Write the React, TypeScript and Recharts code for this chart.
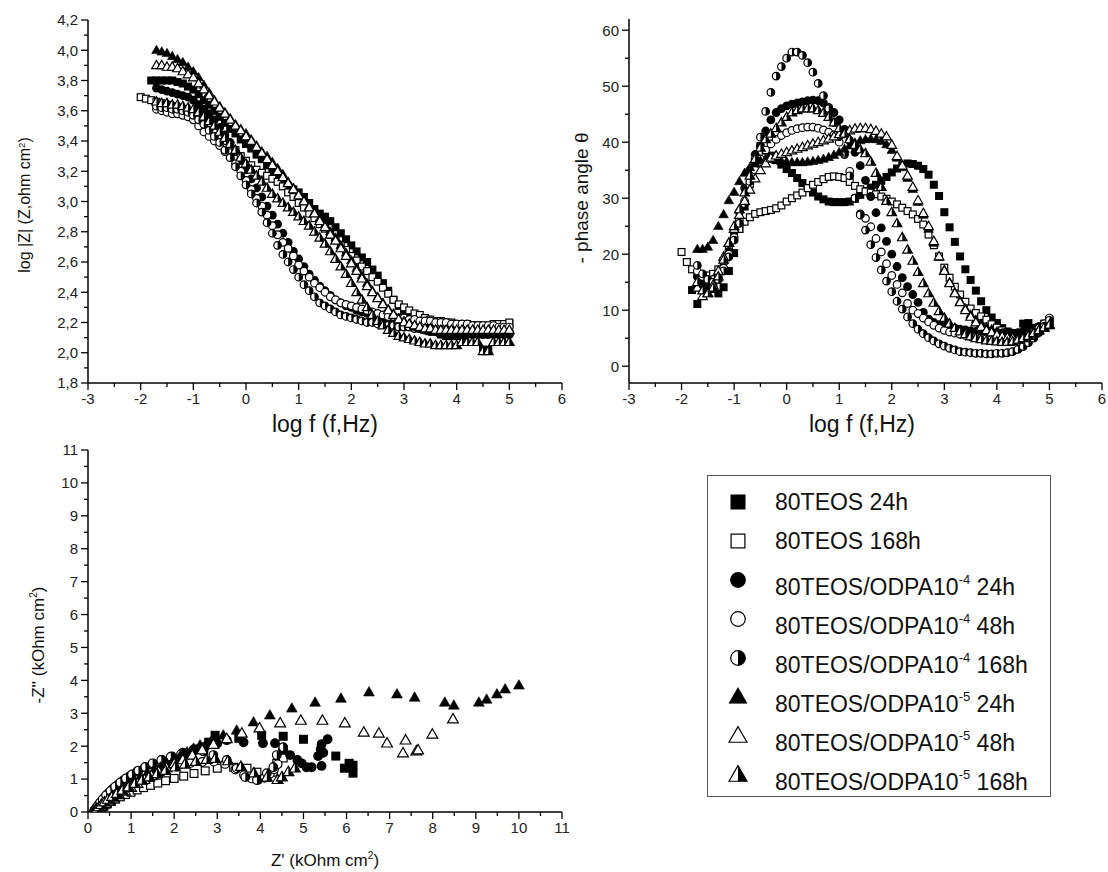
import React from 'react';
import { ScatterChart, Scatter, XAxis, YAxis } from 'recharts';

// frequency sweep, log10(f / Hz)
const logFreq = [
  -2.0, -1.9, -1.8, -1.7, -1.6, -1.5, -1.4, -1.3, -1.2, -1.1,
  -1.0, -0.9, -0.8, -0.7, -0.6, -0.5, -0.4, -0.3, -0.2, -0.1,
  0.0, 0.1, 0.2, 0.3, 0.4, 0.5, 0.6, 0.7, 0.8, 0.9,
  1.0, 1.1, 1.2, 1.3, 1.4, 1.5, 1.6, 1.7, 1.8, 1.9,
  2.0, 2.1, 2.2, 2.3, 2.4, 2.5, 2.6, 2.7, 2.8, 2.9,
  3.0, 3.1, 3.2, 3.3, 3.4, 3.5, 3.6, 3.7, 3.8, 3.9,
  4.0, 4.1, 4.2, 4.3, 4.4, 4.5, 4.6, 4.7, 4.8, 4.9,
  5.0,
];

// log |Z|
const magTeos24 = [
  null, null, 3.80, 3.80, 3.80, 3.80, 3.80, 3.79, 3.78, 3.76,
  3.74, 3.71, 3.67, 3.64, 3.60, 3.56, 3.52, 3.48, 3.45, 3.41,
  3.38, 3.35, 3.31, 3.28, 3.24, 3.20, 3.16, 3.13, 3.10, 3.08,
  3.06, 3.03, 2.99, 2.95, 2.92, 2.90, 2.87, 2.83, 2.79, 2.75,
  2.71, 2.67, 2.63, 2.60, 2.55, 2.51, 2.46, 2.41, 2.35, 2.31,
  2.28, 2.26, 2.24, 2.23, 2.22, 2.18, 2.14, 2.12, 2.11, 2.11,
  2.11, 2.11, 2.17, 2.18, 2.18, 2.02, 2.02, 2.18, 2.18, 2.19,
  2.19,
];
const magTeos168 = [
  3.69, 3.68, 3.67, 3.66, 3.65, 3.64, 3.63, 3.62, 3.61, 3.59,
  3.57, 3.55, 3.52, 3.49, 3.46, 3.43, 3.40, 3.37, 3.34, 3.30,
  3.27, 3.24, 3.21, 3.19, 3.17, 3.15, 3.13, 3.10, 3.06, 3.03,
  2.99, 2.96, 2.92, 2.89, 2.85, 2.82, 2.78, 2.75, 2.71, 2.68,
  2.64, 2.61, 2.57, 2.54, 2.50, 2.47, 2.43, 2.39, 2.35, 2.32,
  2.30, 2.28, 2.26, 2.25, 2.23, 2.22, 2.21, 2.21, 2.20, 2.20,
  2.19, 2.19, 2.19, 2.18, 2.18, 2.18, 2.18, 2.19, 2.19, 2.19,
  2.20,
];
const magOdpa4h24 = [
  null, null, null, 3.75, 3.74, 3.73, 3.72, 3.71, 3.70, 3.69,
  3.67, 3.64, 3.61, 3.58, 3.54, 3.49, 3.44, 3.39, 3.33, 3.27,
  3.21, 3.15, 3.09, 3.03, 2.97, 2.91, 2.85, 2.79, 2.73, 2.67,
  2.62, 2.57, 2.52, 2.48, 2.44, 2.41, 2.38, 2.35, 2.33, 2.31,
  2.30, 2.28, 2.27, 2.26, 2.25, 2.24, 2.23, 2.22, 2.21, 2.20,
  2.19, 2.18, 2.17, 2.16, 2.15, 2.14, 2.14, 2.13, 2.13, 2.12,
  2.12, 2.12, 2.12, 2.12, 2.12, 2.12, 2.12, 2.12, 2.12, 2.12,
  2.12,
];
const magOdpa4h48 = [
  null, null, null, 3.61, 3.60, 3.59, 3.58, 3.58, 3.57, 3.56,
  3.54, 3.50, 3.46, 3.43, 3.40, 3.37, 3.33, 3.29, 3.25, 3.20,
  3.14, 3.08, 3.02, 2.97, 2.91, 2.84, 2.78, 2.73, 2.69, 2.64,
  2.58, 2.54, 2.50, 2.46, 2.43, 2.40, 2.37, 2.35, 2.33, 2.32,
  2.31, 2.30, 2.29, 2.28, 2.27, 2.26, 2.25, 2.24, 2.24, 2.23,
  2.23, 2.22, 2.22, 2.21, 2.21, 2.21, 2.20, 2.20, 2.20, 2.19,
  2.19, 2.19, 2.19, 2.18, 2.18, 2.18, 2.18, 2.18, 2.17, 2.17,
  2.17,
];
const magOdpa4h168 = [
  null, null, null, 3.63, 3.62, 3.62, 3.61, 3.61, 3.60, 3.59,
  3.57, 3.54, 3.51, 3.47, 3.43, 3.39, 3.34, 3.29, 3.23, 3.17,
  3.11, 3.05, 2.99, 2.93, 2.86, 2.79, 2.71, 2.65, 2.60, 2.55,
  2.50, 2.45, 2.41, 2.37, 2.33, 2.31, 2.29, 2.27, 2.25, 2.24,
  2.23, 2.22, 2.21, 2.20, 2.20, 2.19, 2.19, 2.18, 2.18, 2.17,
  2.17, 2.17, 2.16, 2.16, 2.16, 2.15, 2.15, 2.15, 2.15, 2.15,
  2.14, 2.14, 2.14, 2.14, 2.14, 2.14, 2.14, 2.14, 2.14, 2.14,
  2.14,
];
const magOdpa5h24 = [
  null, null, null, 4.00, 3.99, 3.98, 3.96, 3.94, 3.92, 3.89,
  3.86, 3.82, 3.77, 3.72, 3.67, 3.63, 3.59, 3.55, 3.51, 3.48,
  3.45, 3.41, 3.37, 3.33, 3.30, 3.26, 3.22, 3.18, 3.13, 3.09,
  3.05, 3.01, 2.97, 2.93, 2.89, 2.85, 2.80, 2.76, 2.71, 2.66,
  2.61, 2.56, 2.51, 2.46, 2.41, 2.37, 2.33, 2.29, 2.26, 2.23,
  2.21, 2.19, 2.17, 2.16, 2.15, 2.14, 2.14, 2.13, 2.13, 2.13,
  2.13, 2.13, 2.13, 2.13, 2.13, 2.12, 2.13, 2.13, 2.14, 2.14,
  2.14,
];
const magOdpa5h48 = [
  null, null, null, 3.90, 3.90, 3.89, 3.89, 3.88, 3.86, 3.84,
  3.82, 3.78, 3.74, 3.70, 3.66, 3.62, 3.58, 3.54, 3.50, 3.47,
  3.43, 3.40, 3.36, 3.32, 3.28, 3.24, 3.20, 3.16, 3.12, 3.08,
  3.04, 3.00, 2.96, 2.92, 2.87, 2.83, 2.78, 2.74, 2.69, 2.64,
  2.59, 2.54, 2.49, 2.44, 2.40, 2.36, 2.32, 2.28, 2.25, 2.22,
  2.20, 2.19, 2.18, 2.17, 2.16, 2.16, 2.15, 2.15, 2.15, 2.15,
  2.15, 2.15, 2.15, 2.15, 2.15, 2.15, 2.15, 2.15, 2.15, 2.15,
  2.15,
];
const magOdpa5h168 = [
  null, null, null, 3.66, 3.65, 3.65, 3.64, 3.64, 3.63, 3.62,
  3.61, 3.59, 3.56, 3.53, 3.50, 3.46, 3.42, 3.38, 3.34, 3.29,
  3.25, 3.21, 3.17, 3.13, 3.09, 3.05, 3.02, 2.99, 2.96, 2.93,
  2.90, 2.87, 2.84, 2.80, 2.76, 2.72, 2.67, 2.62, 2.57, 2.52,
  2.46, 2.40, 2.35, 2.30, 2.25, 2.21, 2.18, 2.15, 2.13, 2.11,
  2.10, 2.09, 2.08, 2.07, 2.06, 2.06, 2.05, 2.05, 2.05, 2.05,
  2.05, 2.07, 2.07, 2.07, 2.07, 2.01, 2.01, 2.07, 2.07, 2.07,
  2.07,
];

// - phase angle (degrees)
const phTeos24 = [
  null, null, 13.6, 11.1, 14.2, 15.0, 13.8, 13.0, 14.1, 17.0,
  20.2, 24.5, 28.5, 32.5, 36.5, 39.3, 38.5, 37.6, 36.8, 36.0,
  35.2, 34.5, 33.6, 32.7, 31.8, 31.0, 30.3, 29.8, 29.4, 29.3,
  29.3, 29.3, 29.4, 29.9, 30.6, 31.3, 31.9, 32.4, 33.1, 33.8,
  34.6, 35.3, 35.9, 36.2, 36.1, 35.8, 35.2, 34.2, 32.4, 30.4,
  27.5, 24.8, 22.2, 19.6, 17.3, 15.4, 13.5, 11.6, 10.0, 8.7,
  7.7, 6.8, 6.2, 5.9, 5.9, 7.6, 7.7, 6.6, 6.9, 7.2,
  7.4,
];
const phTeos168 = [
  20.4, 18.6, 17.3, 16.4, 16.2, 16.2, 16.5, 17.3, 18.8, 20.8,
  23.0, 24.5, 25.8, 26.6, 27.2, 27.5, 27.7, 27.9, 28.2, 28.7,
  29.4, 30.0, 30.5, 31.0, 31.8, 32.4, 32.9, 33.4, 33.8, 33.9,
  33.8, 33.6, 32.9, 32.2, 31.6, 31.2, 31.0, 30.7, 30.3, 29.9,
  29.4, 28.9, 28.3, 27.7, 27.1, 26.3, 25.3, 23.5, 21.6, 19.6,
  17.6, 15.8, 14.2, 12.8, 11.5, 10.3, 9.5, 8.9, 8.3, 7.5,
  6.9, 6.4, 6.1, 5.9, 5.8, 5.8, 5.9, 6.2, 6.8, 7.6,
  8.3,
];
const phOdpa4h24 = [
  null, null, null, 16.0, 15.0, 14.5, 14.5, 15.5, 17.5, 20.5,
  24.0, 27.5, 31.8, 35.0, 37.8, 39.3, 42.0, 44.0, 45.3, 46.0,
  46.5, 46.8, 47.0, 47.2, 47.4, 47.5, 47.4, 47.0, 46.2, 45.3,
  44.0, 42.3, 40.3, 38.2, 35.8, 33.2, 30.3, 27.4, 24.7, 22.3,
  20.0, 17.8, 15.8, 14.2, 12.8, 11.4, 9.6, 8.4, 7.8, 7.4,
  7.2, 7.0, 6.8, 6.6, 6.5, 6.3, 6.2, 6.1, 6.0, 6.0,
  5.9, 5.9, 5.9, 5.9, 6.0, 6.2, 6.5, 6.8, 7.1, 7.4,
  7.6,
];
const phOdpa4h48 = [
  null, null, null, 17.0, 16.0, 15.5, 15.5, 16.0, 17.5, 20.0,
  23.0, 26.0, 29.5, 32.5, 35.0, 37.0, 38.6, 39.7, 40.5, 41.2,
  41.7, 42.1, 42.4, 42.6, 42.7, 42.7, 42.5, 42.2, 41.8, 41.3,
  40.0, 37.8, 34.8, 30.0, 27.2, 26.4, 24.9, 22.8, 20.4, 18.3,
  16.2, 14.6, 13.1, 11.2, 10.0, 9.4, 8.6, 7.9, 7.3, 6.8,
  6.4, 6.1, 5.9, 5.7, 5.5, 5.3, 5.2, 5.0, 4.9, 4.8,
  4.6, 4.5, 4.4, 4.4, 4.6, 5.0, 5.5, 6.1, 6.8, 7.6,
  8.6,
];
const phOdpa4h168 = [
  null, null, null, 18.0, 16.5, 15.5, 15.0, 15.5, 17.0, 19.5,
  22.5, 25.5, 29.0, 33.0, 37.0, 40.9, 45.5, 48.9, 51.8, 53.5,
  55.0, 56.1, 56.1, 55.5, 54.2, 52.5, 50.5, 48.3, 46.0, 43.5,
  41.0, 38.0, 34.0, 30.0, 27.0, 24.3, 21.7, 19.4, 17.2, 15.2,
  13.3, 11.6, 10.2, 8.8, 7.6, 6.6, 5.8, 5.1, 4.5, 4.0,
  3.6, 3.2, 2.9, 2.6, 2.5, 2.4, 2.3, 2.3, 2.2, 2.2,
  2.3, 2.3, 2.4, 2.6, 3.0, 3.5, 4.2, 5.0, 6.0, 7.1,
  8.2,
];
const phOdpa5h24 = [
  null, null, null, 20.9, 20.9, 21.3, 22.5, 25.0, 27.1, 29.6,
  31.1, 33.0, 34.5, 35.5, 36.2, 36.7, 37.0, 37.0, 36.8, 36.6,
  36.5, 36.4, 36.4, 36.4, 36.5, 36.6, 36.8, 37.0, 37.3, 37.7,
  38.2, 38.8, 39.4, 39.9, 40.3, 40.5, 40.6, 40.5, 40.2, 39.6,
  38.6, 37.2, 35.5, 33.6, 31.6, 29.3, 27.0, 24.5, 22.0, 19.5,
  17.2, 15.0, 13.2, 11.6, 10.3, 9.2, 8.3, 7.6, 7.0, 6.6,
  6.2, 5.9, 5.7, 5.6, 5.6, 5.7, 5.9, 6.2, 6.5, 6.9,
  7.3,
];
const phOdpa5h48 = [
  null, null, null, 14.0, 12.5, 13.0, 14.5, 17.0, 19.5, 22.0,
  24.5, 27.0, 29.5, 31.5, 33.5, 35.0, 36.2, 37.2, 37.6, 37.9,
  38.2, 38.5, 38.8, 39.1, 39.4, 39.7, 40.0, 40.3, 40.6, 41.0,
  41.4, 41.8, 42.1, 42.4, 42.5, 42.5, 42.3, 42.0, 41.5, 41.0,
  39.5, 37.5, 35.8, 34.0, 32.0, 29.6, 27.3, 25.0, 22.3, 19.6,
  17.0, 14.8, 13.0, 11.4, 10.0, 8.8, 7.8, 7.0, 6.4, 6.0,
  5.6, 5.3, 5.1, 5.0, 5.0, 5.1, 5.4, 5.8, 6.3, 6.8,
  7.3,
];
const phOdpa5h168 = [
  null, null, null, 15.0, 13.5, 13.0, 14.0, 16.0, 19.0, 22.0,
  25.0, 28.0, 31.0, 34.0, 37.0, 39.0, 40.5, 41.5, 42.5, 43.5,
  44.5, 45.3, 45.7, 46.0, 46.0, 46.0, 45.7, 45.2, 44.5, 43.5,
  42.5, 41.5, 40.5, 39.5, 38.7, 38.0, 36.5, 34.5, 32.0, 29.5,
  27.5, 25.5, 23.0, 20.8, 18.8, 16.8, 14.8, 13.0, 11.3, 9.8,
  8.6, 7.6, 6.8, 6.2, 5.7, 5.3, 5.0, 4.8, 4.6, 4.5,
  4.4, 4.3, 4.3, 4.4, 4.7, 5.0, 5.4, 5.9, 6.4, 6.9,
  7.4,
];

// Nyquist: Z' and -Z'' (kOhm cm2)
const reTeos24 = [0.15, 0.18, 0.22, 0.27, 0.33, 0.41, 0.50, 0.61, 0.73, 0.87, 1.02, 1.18, 1.35, 1.53, 1.72, 1.92, 2.13, 2.35, 2.60, 2.80, 2.95, 3.50, 4.03, 4.53, 5.00, 5.75, 5.95, 6.06, 6.15, 6.15];
const imTeos24 = [0.0, 0.03, 0.06, 0.11, 0.17, 0.24, 0.32, 0.41, 0.52, 0.63, 0.75, 0.88, 1.01, 1.14, 1.28, 1.42, 1.57, 1.73, 1.92, 2.12, 2.33, 2.24, 2.33, 2.30, 2.21, 1.70, 1.33, 1.48, 1.42, 1.18];
const reTeos168 = [0.15, 0.19, 0.24, 0.30, 0.37, 0.45, 0.54, 0.64, 0.75, 0.87, 1.00, 1.14, 1.29, 1.45, 1.62, 1.80, 2.00, 2.22, 2.46, 2.72, 3.00, 3.38, 3.69, 3.92, 4.15, 4.30, 4.38, 4.53, 4.53];
const imTeos168 = [0.0, 0.03, 0.07, 0.12, 0.18, 0.25, 0.32, 0.39, 0.46, 0.53, 0.60, 0.67, 0.74, 0.81, 0.88, 0.95, 1.02, 1.09, 1.17, 1.25, 1.33, 1.36, 1.33, 1.21, 1.06, 1.21, 1.48, 1.64, 1.90];
const reOdpa4h24 = [0.13, 0.16, 0.20, 0.25, 0.31, 0.39, 0.48, 0.58, 0.70, 0.83, 0.98, 1.14, 1.32, 1.51, 1.72, 1.95, 2.20, 2.45, 2.72, 3.00, 3.22, 3.61, 4.06, 4.34, 4.53, 4.69, 4.86, 4.96, 5.07, 5.19, 5.42, 5.34, 5.46, 5.40, 5.42, 5.56];
const imOdpa4h24 = [0.0, 0.06, 0.14, 0.23, 0.33, 0.45, 0.58, 0.71, 0.84, 0.97, 1.10, 1.23, 1.35, 1.47, 1.58, 1.69, 1.80, 1.90, 1.99, 2.08, 2.18, 2.12, 2.09, 2.09, 1.91, 1.73, 1.58, 1.48, 1.36, 1.36, 1.40, 1.70, 1.80, 1.91, 2.06, 2.21];
const reOdpa4h48 = [0.14, 0.17, 0.21, 0.26, 0.32, 0.40, 0.49, 0.59, 0.70, 0.82, 0.96, 1.11, 1.28, 1.46, 1.66, 1.88, 2.12, 2.38, 2.65, 2.92, 3.18, 3.42, 3.62, 3.80, 3.95, 4.10, 4.22, 4.32, 4.40];
const imOdpa4h48 = [0.0, 0.05, 0.11, 0.18, 0.26, 0.35, 0.45, 0.55, 0.66, 0.77, 0.88, 0.99, 1.10, 1.20, 1.29, 1.37, 1.44, 1.49, 1.52, 1.53, 1.46, 1.29, 1.12, 1.02, 0.98, 1.04, 1.16, 1.30, 1.45];
const reOdpa4h168 = [0.14, 0.16, 0.19, 0.23, 0.28, 0.34, 0.42, 0.52, 0.63, 0.75, 0.88, 1.02, 1.17, 1.33, 1.50, 1.70, 1.92, 2.16, 2.42, 2.68, 2.91, 3.22, 3.45, 3.65, 3.92, 4.15, 4.30, 4.38, 4.53];
const imOdpa4h168 = [0.0, 0.05, 0.12, 0.20, 0.29, 0.39, 0.51, 0.64, 0.77, 0.90, 1.02, 1.14, 1.26, 1.37, 1.48, 1.58, 1.68, 1.76, 1.82, 1.84, 1.73, 1.58, 1.33, 1.06, 0.97, 1.18, 1.36, 1.73, 1.97];
const reOdpa5h24 = [0.14, 0.17, 0.21, 0.26, 0.32, 0.40, 0.50, 0.62, 0.76, 0.91, 1.06, 1.22, 1.38, 1.53, 1.68, 1.83, 1.98, 2.14, 2.30, 2.45, 2.60, 2.88, 3.14, 3.45, 3.84, 4.22, 4.73, 5.27, 5.87, 6.52, 7.17, 7.58, 8.28, 8.49, 9.07, 9.25, 9.49, 9.68, 10.0];
const imOdpa5h24 = [0.0, 0.04, 0.09, 0.15, 0.22, 0.30, 0.40, 0.52, 0.66, 0.82, 0.97, 1.08, 1.18, 1.27, 1.36, 1.47, 1.58, 1.70, 1.82, 1.93, 2.03, 2.20, 2.33, 2.48, 2.73, 2.94, 3.15, 3.33, 3.45, 3.64, 3.58, 3.48, 3.33, 3.24, 3.33, 3.42, 3.58, 3.73, 3.85];
const reOdpa5h48 = [0.14, 0.17, 0.21, 0.26, 0.32, 0.40, 0.49, 0.60, 0.72, 0.86, 1.00, 1.15, 1.31, 1.47, 1.64, 1.82, 2.00, 2.20, 2.42, 2.65, 2.91, 3.22, 3.57, 3.98, 4.46, 4.94, 5.44, 5.96, 6.40, 6.75, 6.94, 7.37, 7.31, 7.62, 7.66, 7.99, 8.47];
const imOdpa5h48 = [0.0, 0.03, 0.07, 0.12, 0.18, 0.25, 0.33, 0.42, 0.52, 0.63, 0.74, 0.86, 0.98, 1.10, 1.22, 1.34, 1.46, 1.58, 1.72, 1.88, 2.05, 2.22, 2.39, 2.55, 2.70, 2.78, 2.78, 2.70, 2.42, 2.39, 2.09, 2.18, 1.79, 1.85, 1.88, 2.36, 2.82];
const reOdpa5h168 = [0.13, 0.16, 0.20, 0.25, 0.31, 0.38, 0.46, 0.56, 0.67, 0.80, 0.94, 1.09, 1.25, 1.42, 1.60, 1.80, 2.02, 2.25, 2.50, 2.75, 2.95, 3.25, 3.55, 3.85, 4.15, 4.40, 4.50, 4.65, 4.80];
const imOdpa5h168 = [0.0, 0.04, 0.09, 0.15, 0.22, 0.30, 0.38, 0.47, 0.56, 0.66, 0.76, 0.86, 0.96, 1.06, 1.16, 1.26, 1.36, 1.45, 1.53, 1.59, 1.62, 1.55, 1.38, 1.18, 1.05, 0.98, 1.06, 1.22, 1.33];

// axis ticks (major + minor)
const bodeXTicks = [-3, -2.5, -2, -1.5, -1, -0.5, 0, 0.5, 1, 1.5, 2, 2.5, 3, 3.5, 4, 4.5, 5, 5.5, 6];
const magTicks = [1.8, 1.9, 2.0, 2.1, 2.2, 2.3, 2.4, 2.5, 2.6, 2.7, 2.8, 2.9, 3.0, 3.1, 3.2, 3.3, 3.4, 3.5, 3.6, 3.7, 3.8, 3.9, 4.0, 4.1, 4.2];
const phaseTicks = [0, 5, 10, 15, 20, 25, 30, 35, 40, 45, 50, 55, 60];
const nyqTicks = [0, 0.5, 1, 1.5, 2, 2.5, 3, 3.5, 4, 4.5, 5, 5.5, 6, 6.5, 7, 7.5, 8, 8.5, 9, 9.5, 10, 10.5, 11];

type Kind = 'sqFill' | 'sqOpen' | 'ciFill' | 'ciOpen' | 'ciHalf' | 'trFill' | 'trOpen' | 'trHalf';

const series: { label: string; sup?: string; tail?: string; kind: Kind; mag: (number | null)[]; ph: (number | null)[]; re: number[]; im: number[] }[] = [
  { label: '80TEOS 24h', kind: 'sqFill', mag: magTeos24, ph: phTeos24, re: reTeos24, im: imTeos24 },
  { label: '80TEOS 168h', kind: 'sqOpen', mag: magTeos168, ph: phTeos168, re: reTeos168, im: imTeos168 },
  { label: '80TEOS/ODPA10', sup: '-4', tail: ' 24h', kind: 'ciFill', mag: magOdpa4h24, ph: phOdpa4h24, re: reOdpa4h24, im: imOdpa4h24 },
  { label: '80TEOS/ODPA10', sup: '-4', tail: ' 48h', kind: 'ciOpen', mag: magOdpa4h48, ph: phOdpa4h48, re: reOdpa4h48, im: imOdpa4h48 },
  { label: '80TEOS/ODPA10', sup: '-4', tail: ' 168h', kind: 'ciHalf', mag: magOdpa4h168, ph: phOdpa4h168, re: reOdpa4h168, im: imOdpa4h168 },
  { label: '80TEOS/ODPA10', sup: '-5', tail: ' 24h', kind: 'trFill', mag: magOdpa5h24, ph: phOdpa5h24, re: reOdpa5h24, im: imOdpa5h24 },
  { label: '80TEOS/ODPA10', sup: '-5', tail: ' 48h', kind: 'trOpen', mag: magOdpa5h48, ph: phOdpa5h48, re: reOdpa5h48, im: imOdpa5h48 },
  { label: '80TEOS/ODPA10', sup: '-5', tail: ' 168h', kind: 'trHalf', mag: magOdpa5h168, ph: phOdpa5h168, re: reOdpa5h168, im: imOdpa5h168 },
];

const FONT = "'Liberation Sans', Arial, sans-serif";

function Marker({ cx, cy, kind, s }: { cx: number; cy: number; kind: Kind; s: number }) {
  const sw = 1.2;
  const r = s / 2;
  const w = s * 1.2;
  const h = w * 0.87;
  const tri = `${cx},${cy - h * 0.6} ${cx - w / 2},${cy + h * 0.4} ${cx + w / 2},${cy + h * 0.4}`;
  switch (kind) {
    case 'sqFill':
      return <rect x={cx - r} y={cy - r} width={s} height={s} fill="#000" />;
    case 'sqOpen':
      return <rect x={cx - r + 0.6} y={cy - r + 0.6} width={s - 1.2} height={s - 1.2} fill="#fff" stroke="#000" strokeWidth={sw} />;
    case 'ciFill':
      return <circle cx={cx} cy={cy} r={r + 0.4} fill="#000" />;
    case 'ciOpen':
      return <circle cx={cx} cy={cy} r={r - 0.2} fill="#fff" stroke="#000" strokeWidth={sw} />;
    case 'ciHalf':
      return (
        <g>
          <circle cx={cx} cy={cy} r={r - 0.2} fill="#fff" stroke="#000" strokeWidth={sw} />
          <path d={`M${cx},${cy - r + 0.2} A${r - 0.2},${r - 0.2} 0 0 1 ${cx},${cy + r - 0.2} Z`} fill="#000" />
        </g>
      );
    case 'trFill':
      return <polygon points={tri} fill="#000" stroke="#000" strokeWidth={0.6} strokeLinejoin="miter" />;
    case 'trOpen':
      return <polygon points={tri} fill="#fff" stroke="#000" strokeWidth={sw} />;
    case 'trHalf':
      return (
        <g>
          <polygon points={tri} fill="#fff" stroke="#000" strokeWidth={sw} />
          <polygon points={`${cx},${cy - h * 0.6} ${cx + w / 2},${cy + h * 0.4} ${cx},${cy + h * 0.4}`} fill="#000" />
        </g>
      );
  }
  return null;
}

const shapeOf = (kind: Kind, s: number) => (p: any) =>
  p.cx == null ? <g /> : <Marker cx={p.cx} cy={p.cy} kind={kind} s={s} />;

const bodePoints = (vals: (number | null)[]) =>
  logFreq.map((f, i) => ({ x: f, y: vals[i] })).filter((p) => p.y != null);

const nyqPoints = (re: number[], im: number[]) => re.map((v, i) => ({ x: v, y: im[i] }));

const xTick = (isMajor: (v: number) => boolean, fmt: (v: number) => string) => (props: any) => {
  const { x, y, payload } = props;
  const v = payload.value as number;
  const major = isMajor(v);
  return (
    <g>
      <line x1={x} y1={y} x2={x} y2={y + (major ? 7 : 4)} stroke="#000" strokeWidth={1.3} />
      {major && (
        <text x={x} y={y + 21} textAnchor="middle" fontSize={15} fill="#222" fontFamily={FONT}>
          {fmt(v)}
        </text>
      )}
    </g>
  );
};

const yTick = (isMajor: (v: number) => boolean, fmt: (v: number) => string) => (props: any) => {
  const { x, y, payload } = props;
  const v = payload.value as number;
  const major = isMajor(v);
  return (
    <g>
      <line x1={x - (major ? 7 : 4)} y1={y} x2={x} y2={y} stroke="#000" strokeWidth={1.3} />
      {major && (
        <text x={x - 10} y={y} dy="0.36em" textAnchor="end" fontSize={15} fill="#222" fontFamily={FONT}>
          {fmt(v)}
        </text>
      )}
    </g>
  );
};

const isInt = (v: number) => Math.abs(v - Math.round(v)) < 1e-6;
const comma = (v: number) => v.toFixed(1).replace('.', ',');
const plain = (v: number) => String(v);
const axisLine = { stroke: '#000', strokeWidth: 1.5 };

const abs = (left: number, top: number): React.CSSProperties => ({ position: 'absolute', left, top });

function Label({ x, y, size, rotate, children }: { x: number; y: number; size: number; rotate?: boolean; children: React.ReactNode }) {
  return (
    <div
      style={{
        position: 'absolute',
        left: x,
        top: y,
        transform: `translate(-50%, -50%)${rotate ? ' rotate(-90deg)' : ''}`,
        whiteSpace: 'nowrap',
        fontFamily: FONT,
        fontSize: size,
        color: '#111',
        lineHeight: 1,
      }}
    >
      {children}
    </div>
  );
}

const Sup = ({ children }: { children: React.ReactNode }) => (
  <span style={{ fontSize: '0.6em', verticalAlign: '0.6em' }}>{children}</span>
);

export default function App() {
  return (
    <div style={{ position: 'absolute', left: 0, top: 0, width: 1108, height: 872, background: '#fff', overflow: 'hidden' }}>
      {/* log |Z| vs log f */}
      <div style={abs(0, 0)}>
        <ScatterChart width={590} height={440} margin={{ top: 20, right: 28, bottom: 0, left: 0 }}>
          <XAxis type="number" dataKey="x" domain={[-3, 6]} ticks={bodeXTicks} interval={0} allowDataOverflow
            height={57} tickSize={0} tickMargin={0} tickLine={false} axisLine={axisLine} tick={xTick(isInt, plain)} />
          <YAxis type="number" dataKey="y" domain={[1.8, 4.2]} ticks={magTicks} interval={0} allowDataOverflow
            width={88} tickSize={0} tickMargin={0} tickLine={false} axisLine={axisLine}
            tick={yTick((v) => Math.round(v * 10) % 2 === 0, comma)} />
          {series.map((s) => (
            <Scatter key={s.label + (s.tail || '')} data={bodePoints(s.mag)} shape={shapeOf(s.kind, 8)} isAnimationActive={false} />
          ))}
        </ScatterChart>
      </div>

      {/* - phase angle vs log f */}
      <div style={abs(560, 0)}>
        <ScatterChart width={548} height={440} margin={{ top: 19, right: 6, bottom: 0, left: 0 }}>
          <XAxis type="number" dataKey="x" domain={[-3, 6]} ticks={bodeXTicks} interval={0} allowDataOverflow
            height={57} tickSize={0} tickMargin={0} tickLine={false} axisLine={axisLine} tick={xTick(isInt, plain)} />
          <YAxis type="number" dataKey="y" domain={[-3, 62]} ticks={phaseTicks} interval={0} allowDataOverflow
            width={69} tickSize={0} tickMargin={0} tickLine={false} axisLine={axisLine}
            tick={yTick((v) => v % 10 === 0, plain)} />
          {series.map((s) => (
            <Scatter key={s.label + (s.tail || '')} data={bodePoints(s.ph)} shape={shapeOf(s.kind, 8)} isAnimationActive={false} />
          ))}
        </ScatterChart>
      </div>

      {/* Nyquist */}
      <div style={abs(0, 440)}>
        <ScatterChart width={590} height={432} margin={{ top: 10, right: 28, bottom: 0, left: 0 }}>
          <XAxis type="number" dataKey="x" domain={[0, 11]} ticks={nyqTicks} interval={0} allowDataOverflow
            height={60} tickSize={0} tickMargin={0} tickLine={false} axisLine={axisLine} tick={xTick(isInt, plain)} />
          <YAxis type="number" dataKey="y" domain={[0, 11]} ticks={nyqTicks} interval={0} allowDataOverflow
            width={88} tickSize={0} tickMargin={0} tickLine={false} axisLine={axisLine} tick={yTick(isInt, plain)} />
          {series.map((s) => (
            <Scatter key={s.label + (s.tail || '')} data={nyqPoints(s.re, s.im)} shape={shapeOf(s.kind, 9)} isAnimationActive={false} />
          ))}
        </ScatterChart>
      </div>

      {/* axis titles */}
      <Label x={25} y={205} size={16} rotate>
        log |Z| (Z,ohm cm<Sup>2</Sup>)
      </Label>
      <Label x={325} y={424} size={23}>log f (f,Hz)</Label>
      <Label x={581} y={198} size={19} rotate>
        - phase angle θ
      </Label>
      <Label x={862} y={424} size={23}>log f (f,Hz)</Label>
      <Label x={38} y={645} size={17} rotate>
        -Z'' (kOhm cm<Sup>2</Sup>)
      </Label>
      <Label x={325} y={860} size={17}>
        Z' (kOhm cm<Sup>2</Sup>)
      </Label>

      {/* legend */}
      <div style={{ position: 'absolute', left: 707, top: 475, width: 344, height: 322, border: '1px solid #555', boxSizing: 'border-box' }}>
        {series.map((s, i) => (
          <div key={i} style={{ position: 'absolute', left: 0, top: 26 + i * 39 - 14, height: 28, width: 340 }}>
            <svg width={40} height={28} style={{ position: 'absolute', left: 10, top: 0 }}>
              <Marker cx={20} cy={14} kind={s.kind} s={15} />
            </svg>
            <div style={{ position: 'absolute', left: 67, top: 0, lineHeight: '28px', fontFamily: FONT, fontSize: 23, color: '#111', whiteSpace: 'nowrap' }}>
              {s.label}
              {s.sup && <span style={{ fontSize: 13, verticalAlign: 11 }}>{s.sup}</span>}
              {s.tail}
            </div>
          </div>
        ))}
      </div>
    </div>
  );
}
